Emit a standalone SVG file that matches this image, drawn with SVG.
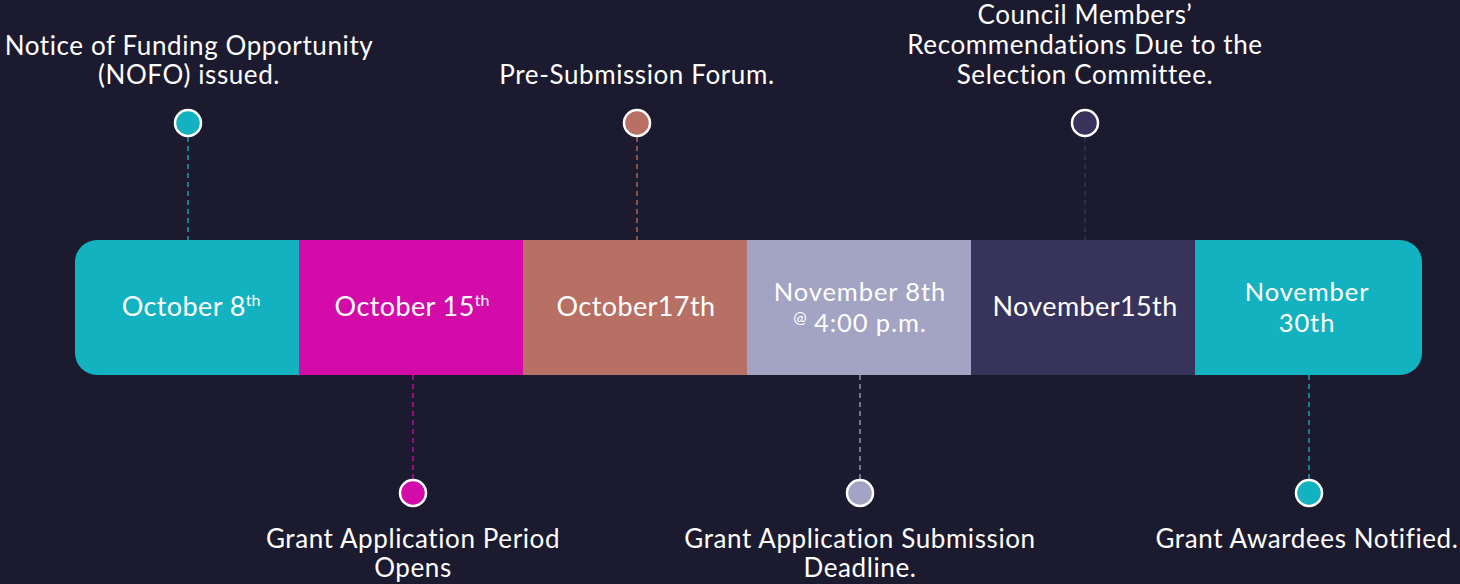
<svg xmlns="http://www.w3.org/2000/svg" width="1460" height="584" viewBox="0 0 1460 584">
<style>
.t{font-family:Lato,"Open Sans","Liberation Sans",sans-serif;font-size:26px;letter-spacing:0.6px;fill:#ffffff;text-anchor:middle}
.b{font-family:Lato,"Open Sans","Liberation Sans",sans-serif;font-size:27px;letter-spacing:0.4px;fill:#ffffff;text-anchor:middle}
.b2{font-family:Lato,"Open Sans","Liberation Sans",sans-serif;font-size:25.5px;letter-spacing:0.9px;fill:#ffffff;text-anchor:middle}
.sup{font-size:16px;letter-spacing:0}
.dot{stroke:#ffffff;stroke-width:2.5}
.ln{stroke-width:1.3;stroke-dasharray:5 4;fill:none}
</style>
<defs>
<clipPath id="barclip"><rect x="75" y="240" width="1347" height="135" rx="22" ry="22"/></clipPath>
</defs>
<rect x="0" y="0" width="1460" height="584" fill="#1c1a2e"/>
<g id="connectors">
<line class="ln" x1="188" y1="137" x2="188" y2="240" stroke="#13b2c0"/>
<line class="ln" x1="413" y1="375" x2="413" y2="479" stroke="#d30ba8"/>
<line class="ln" x1="637" y1="137" x2="637" y2="240" stroke="#b87064"/>
<line class="ln" x1="860" y1="375" x2="860" y2="479" stroke="#a3a3c3"/>
<line class="ln" x1="1085" y1="137" x2="1085" y2="240" stroke="#38335a"/>
<line class="ln" x1="1309" y1="375" x2="1309" y2="479" stroke="#13b2c0"/>
</g>
<g id="bar" clip-path="url(#barclip)">
<rect x="75" y="240" width="224" height="135" fill="#13b2c0"/>
<rect x="299" y="240" width="224" height="135" fill="#d30ba8"/>
<rect x="523" y="240" width="224" height="135" fill="#b87064"/>
<rect x="747" y="240" width="224" height="135" fill="#a3a3c3"/>
<rect x="971" y="240" width="224" height="135" fill="#38335a"/>
<rect x="1195" y="240" width="227" height="135" fill="#13b2c0"/>
</g>
<g id="seg1"><text class="b" x="191" y="316">October 8<tspan class="sup" dy="-10">th</tspan></text></g>
<g id="seg2"><text class="b" x="412" y="316">October 15<tspan class="sup" dy="-10">th</tspan></text></g>
<g id="seg3"><text class="b" x="636" y="316">October17th</text></g>
<g id="seg4"><text class="b2" x="860" y="301">November 8th</text><text class="b2" x="860" y="332"><tspan class="sup" dy="-9">@</tspan><tspan dy="9"> 4:00 p.m.</tspan></text></g>
<g id="seg5"><text class="b" x="1085" y="316">November15th</text></g>
<g id="seg6"><text class="b2" x="1307" y="301">November</text><text class="b2" x="1307" y="332">30th</text></g>
<g id="m1"><circle class="dot" cx="188" cy="123" r="13" fill="#13b2c0"/><text class="t" x="189" y="55">Notice of Funding Opportunity</text><text class="t" x="189" y="84">(NOFO) issued.</text></g>
<g id="m2"><circle class="dot" cx="413" cy="493" r="13" fill="#d30ba8"/><text class="t" x="413" y="548">Grant Application Period</text><text class="t" x="413" y="577">Opens</text></g>
<g id="m3"><circle class="dot" cx="637" cy="123" r="13" fill="#b87064"/><text class="t" x="637" y="84">Pre-Submission Forum.</text></g>
<g id="m4"><circle class="dot" cx="860" cy="493" r="13" fill="#a3a3c3"/><text class="t" x="860" y="548">Grant Application Submission</text><text class="t" x="860" y="577">Deadline.</text></g>
<g id="m5"><circle class="dot" cx="1085" cy="123" r="13" fill="#38335a"/><text class="t" x="1085" y="24">Council Members’</text><text class="t" x="1085" y="54">Recommendations Due to the</text><text class="t" x="1085" y="84">Selection Committee.</text></g>
<g id="m6"><circle class="dot" cx="1309" cy="493" r="13" fill="#13b2c0"/><text class="t" x="1307" y="548">Grant Awardees Notified.</text></g>
</svg>
